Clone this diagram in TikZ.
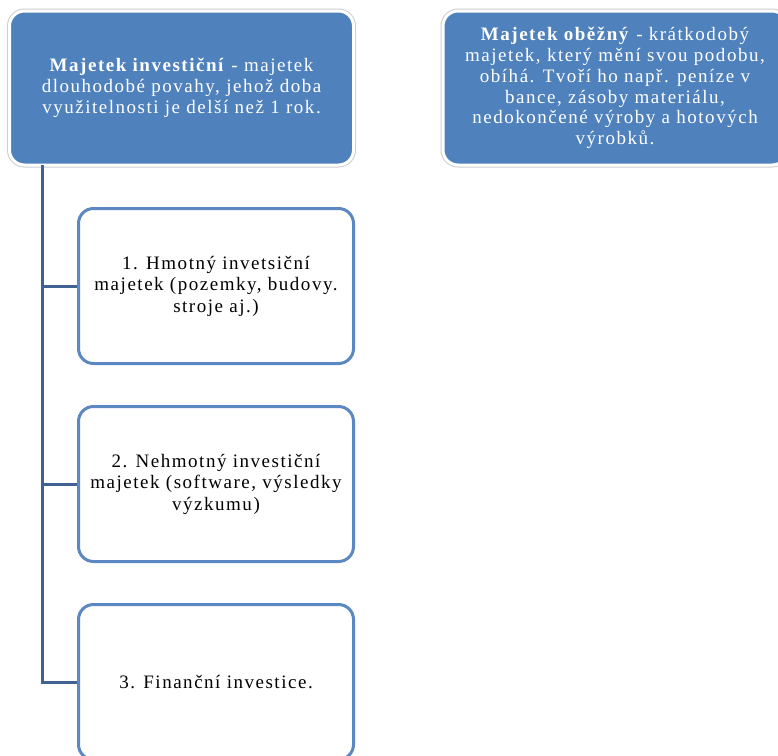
\documentclass[tikz,border=0pt]{standalone}
\usepackage{fontspec}
\setmainfont{Liberation Serif}[LetterSpace=8]
\usepackage{xcolor}
\usepackage{tikz}
\usetikzlibrary{positioning}
\definecolor{boxblue}{RGB}{79,129,189}
\definecolor{boxedge}{RGB}{91,135,194}
\definecolor{trunkblue}{RGB}{63,98,146}
\definecolor{haloline}{RGB}{205,205,205}
\tikzset{
  headbox/.style  = {rectangle, rounded corners=15pt, inner sep=0pt,
                     minimum width=344pt, minimum height=154pt,
                     fill=boxblue, draw=white, line width=3pt,
                     preaction={draw=haloline, line width=5pt},
                     text=white, align=center,
                     font=\fontsize{19}{20.8}\selectfont},
  itembox/.style  = {rectangle, rounded corners=15pt, inner sep=0pt,
                     minimum width=275pt, minimum height=155pt,
                     fill=white, draw=boxedge, line width=3pt,
                     text=black, align=center,
                     font=\fontsize{19}{21.5}\selectfont},
  trunkline/.style = {draw=trunkblue, line width=3pt}
}

\begin{document}
\begin{tikzpicture}[x=1pt, y=-1pt]
  \clip (0,0) rectangle (778,755);
  % Level 0
  \node[headbox] (inv) at (181.5,88) {\textbf{Majetek investiční} - majetek\\
    dlouhodobé povahy, jehož doba\\ využitelnosti je delší než 1 rok.};
  \node[headbox] (obe) at (615,88) {\textbf{Majetek oběžný} - krátkodobý\\
    majetek, který mění svou podobu,\\ obíhá. Tvoří ho např. peníze v\\
    bance, zásoby materiálu,\\ nedokončené výroby a hotových\\ výrobků.};
  % Level 1
  \node[itembox] (hm) at (216,286) {1. Hmotný invetsiční\\
    majetek (pozemky, budovy.\\ stroje aj.)};
  \node[itembox] (nh) at (216,484) {2. Nehmotný investiční\\
    majetek (software, výsledky\\ výzkumu)};
  \node[itembox] (fi) at (216,682) {3. Finanční investice.};
  % Edges
  \coordinate (trunk) at (42,165);
  \draw[trunkline] (trunk) |- (fi.west);
  \draw[trunkline] (trunk |- hm.west) -- (hm.west);
  \draw[trunkline] (trunk |- nh.west) -- (nh.west);
\end{tikzpicture}
\end{document}
